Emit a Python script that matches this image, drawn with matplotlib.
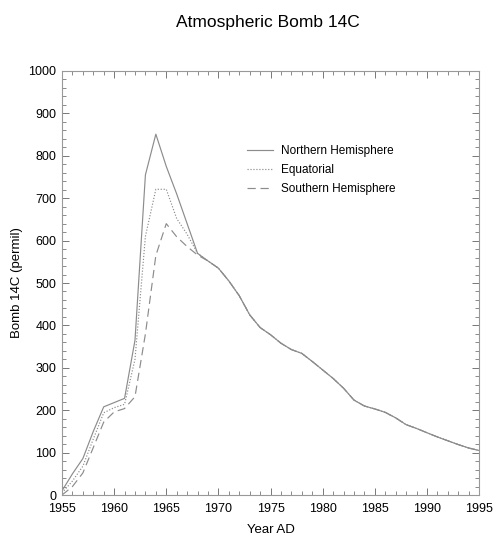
import matplotlib
matplotlib.use("Agg")
import matplotlib.pyplot as plt
from matplotlib.ticker import MultipleLocator

plt.rcParams['font.family'] = ['Liberation Sans', 'DejaVu Sans']

years = list(range(1955, 1996))
north = [10, 50, 86, 150, 208, 218, 228, 365, 755, 851, 775, 710, 640, 570,
         552, 535, 505, 470, 425, 395, 378, 358, 343, 334, 315, 295, 275, 252,
         224, 210, 203, 195, 182, 166, 157, 147, 137, 128, 119, 111, 105]
equatorial = [5, 33, 68, 132, 194, 206, 214, 320, 610, 721, 721, 652, 615, 570,
              552, 535, 505, 470, 425, 395, 378, 358, 343, 334, 315, 295, 275, 252,
              224, 210, 203, 195, 182, 166, 157, 147, 137, 128, 119, 111, 105]
south = [0, 20, 52, 112, 172, 196, 204, 232, 380, 565, 640, 609, 586, 566,
         552, 535, 505, 470, 425, 395, 378, 358, 343, 334, 315, 295, 275, 252,
         224, 210, 203, 195, 182, 166, 157, 147, 137, 128, 119, 111, 105]

fig = plt.figure(figsize=(4.98, 5.44), dpi=100)
ax = fig.add_axes([0.1245, 0.090, 0.8375, 0.7795])

col = '#8c8c8c'
ax.plot(years, north, color=col, lw=0.85, ls='-', label='Northern Hemisphere')
ax.plot(years, equatorial, color=col, lw=0.85, ls=(0, (1, 1.5)), label='Equatorial')
ax.plot(years, south, color=col, lw=0.85, ls=(0, (7, 4)), label='Southern Hemisphere')

ax.set_xlim(1955, 1995)
ax.set_ylim(0, 1000)
ax.xaxis.set_major_locator(MultipleLocator(5))
ax.xaxis.set_minor_locator(MultipleLocator(1))
ax.yaxis.set_major_locator(MultipleLocator(100))
ax.yaxis.set_minor_locator(MultipleLocator(20))
ax.tick_params(which='both', direction='in', top=True, right=True, color='#777777')
ax.tick_params(which='major', length=5, width=0.7, labelsize=9)
ax.tick_params(axis='x', which='major', pad=5.5)
ax.tick_params(axis='y', which='major', pad=4)
ax.tick_params(which='minor', length=3, width=0.6)
for s in ax.spines.values():
    s.set_color('#999999')
    s.set_linewidth(0.8)

ax.set_xlabel('Year AD', fontsize=9.5, labelpad=7)
ax.set_ylabel('Bomb 14C (permil)', fontsize=9.5, labelpad=4)

fig.text(0.538, 0.958, 'Atmospheric Bomb 14C', fontsize=12.5,
         ha='center', va='center')

leg = ax.legend(loc='upper left', bbox_to_anchor=(0.4436, 0.826), frameon=False,
                prop={'size': 8.5}, handlelength=2.2, borderpad=0,
                handletextpad=0.65, labelspacing=0.62, borderaxespad=0)

fig.savefig('out.png', dpi=100)
